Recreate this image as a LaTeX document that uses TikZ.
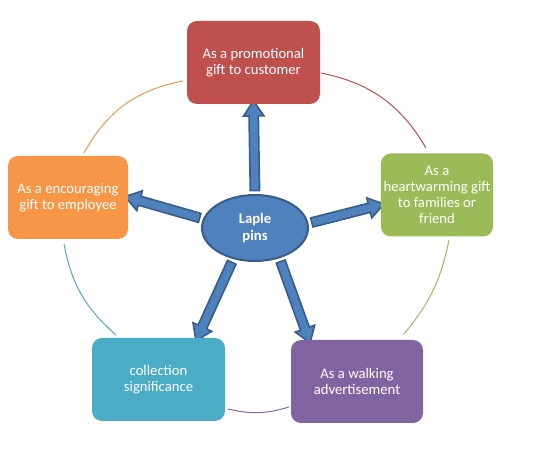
\documentclass[tikz,border=0pt]{standalone}
\usepackage{fontspec}
\setmainfont{Carlito}
\usetikzlibrary{shapes.geometric,shapes.arrows,calc,backgrounds}
\definecolor{boxred}{HTML}{C0504D}
\definecolor{boxgreen}{HTML}{9BBB59}
\definecolor{boxorange}{HTML}{F79646}
\definecolor{boxteal}{HTML}{4BACC6}
\definecolor{boxpurple}{HTML}{8064A2}
\definecolor{pinblue}{HTML}{4F81BD}
\definecolor{pinedge}{HTML}{385D8A}
\tikzset{
  usebox/.style={rectangle, rounded corners=7.5pt, minimum height=62.25pt,
    text=white, align=center, inner sep=2pt, font=\fontsize{11}{12}\selectfont},
  blockarrow/.style={single arrow, draw=pinedge, fill=pinblue, line width=1.2pt,
    inner xsep=0pt, inner ysep=2.9pt, minimum width=0pt, single arrow head extend=4.2pt,
    single arrow tip angle=68},
  ring/.style={line width=0.75pt}
}
\newcommand\pinarrow[2]{%
  \path let \p1=($(#2)-(#1)$), \n1={atan2(\y1,\x1)}, \n2={veclen(\x1,\y1)} in
    node[blockarrow, rotate=\n1, minimum height=\n2] at ($(#1)!0.5!(#2)$) {};}
\begin{document}
\begin{tikzpicture}[x=0.75pt,y=-0.75pt]
\useasboundingbox (0,0) rectangle (558,456);
\node[usebox, fill=boxred, minimum width=99.75pt] (promo) at (253.5,62.5) {As a promotional\\gift to customer};
\node[usebox, fill=boxgreen, minimum width=82.5pt] (family) at (437,195) {As a\\heartwarming gift\\to families or\\friend};
\node[usebox, fill=boxorange, minimum width=90pt] (staff) at (68,197.5) {As a encouraging\\gift to employee};
\node[usebox, fill=boxteal, minimum width=99.75pt] (collect) at (158.5,379.5) {collection\\significance};
\node[usebox, fill=boxpurple, minimum width=99pt] (advert) at (357,381.5) {As a walking\\advertisement};
\node[ellipse, draw=pinedge, fill=pinblue, line width=1.5pt, minimum width=79.5pt,
  minimum height=49.5pt, text=white, align=center,
  font=\bfseries\fontsize{11}{13}\selectfont] (pins) at (255,228) {Laple\\pins};
\coordinate (o1) at (84,153);
\coordinate (o2) at (183,81);
\coordinate (r1) at (321,73);
\coordinate (r2) at (426,148);
\coordinate (g1) at (449,240);
\coordinate (g2) at (404,334);
\coordinate (p1) at (289,407);
\coordinate (p2) at (228,409);
\coordinate (t1) at (116,335);
\coordinate (t2) at (64,244);
\draw[ring, boxorange] (o1) to[bend left=25] (o2);
\draw[ring, boxred] (r1) to[bend left=24] (r2);
\draw[ring, boxgreen] (g1) to[bend left=14] (g2);
\draw[ring, boxpurple] (p1) to[bend left=15] (p2);
\draw[ring, boxteal] (t1) to[bend left=19] (t2);
\begin{scope}[on background layer]
\pinarrow{pins.90}{promo.south}
\pinarrow{pins.170}{staff.east}
\pinarrow{pins.5}{family.190}
\pinarrow{pins.235}{collect.47}
\pinarrow{pins.309}{advert.139}
\end{scope}
\end{tikzpicture}
\end{document}
